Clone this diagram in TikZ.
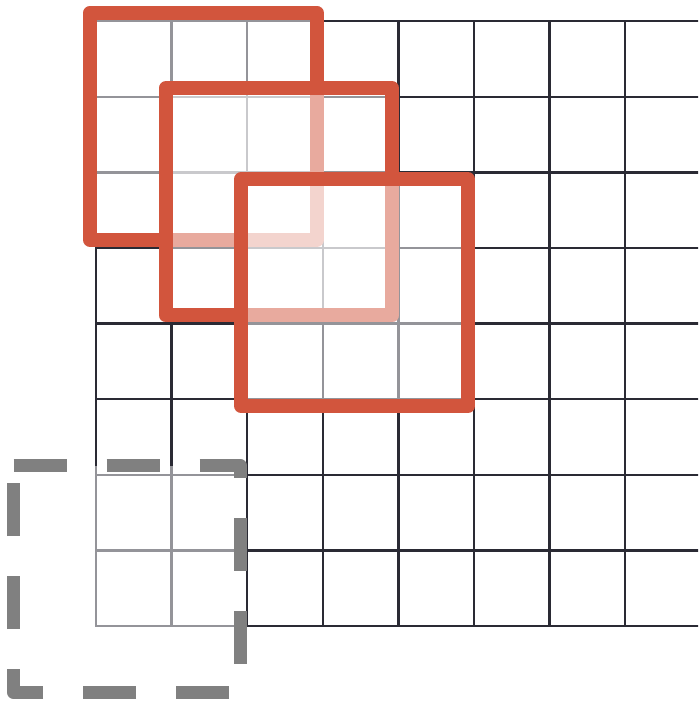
\documentclass[tikz,border=0pt]{standalone}
\usepackage{tikz}

\definecolor{gridink}{RGB}{42,42,52}
\definecolor{winred}{RGB}{210,85,61}
\definecolor{ghostgray}{RGB}{128,128,128}

\begin{document}
\begin{tikzpicture}[
    gridline/.style={
        draw=gridink, line width=0.9pt, line cap=rect
    },
    window/.style={
        draw=winred, line width=5.3pt, line join=round,
        fill=white, fill opacity=0.5, draw opacity=1
    },
    ghost/.style={
        draw=ghostgray, line width=4.9pt, line join=round,
        dash pattern=on 0.70cm off 0.53cm,
        fill=white, fill opacity=0.5, draw opacity=1
    }
]

\useasboundingbox (-1.27,-0.992) rectangle (7.963,8.28);
\clip (-1.27,-0.992) rectangle (7.963,8.28);

% input grid
\foreach \i in {0,...,8} {
    \draw[gridline] (\i,0) -- (\i,8);
    \draw[gridline] (0,\i) -- (8.2,\i);
}

% corners of the sliding windows
\coordinate (win1tl) at (-0.08,8.11);
\coordinate (win1br) at (2.92,5.11);
\coordinate (win2tl) at (0.92,7.11);
\coordinate (win2br) at (3.92,4.11);
\coordinate (win3tl) at (1.92,5.91);
\coordinate (win3br) at (4.92,2.91);
\coordinate (padtl)  at (-1.09,2.12);
\coordinate (padbr)  at (1.91,-0.88);

\draw[window] (win1tl) rectangle (win1br);
\draw[window] (win2tl) rectangle (win2br);
\draw[window] (win3tl) rectangle (win3br);

% window over the padding
\draw[ghost] (padtl) -- (padtl -| padbr) -- (padbr) -- (padbr -| padtl) -- cycle;

\end{tikzpicture}
\end{document}
